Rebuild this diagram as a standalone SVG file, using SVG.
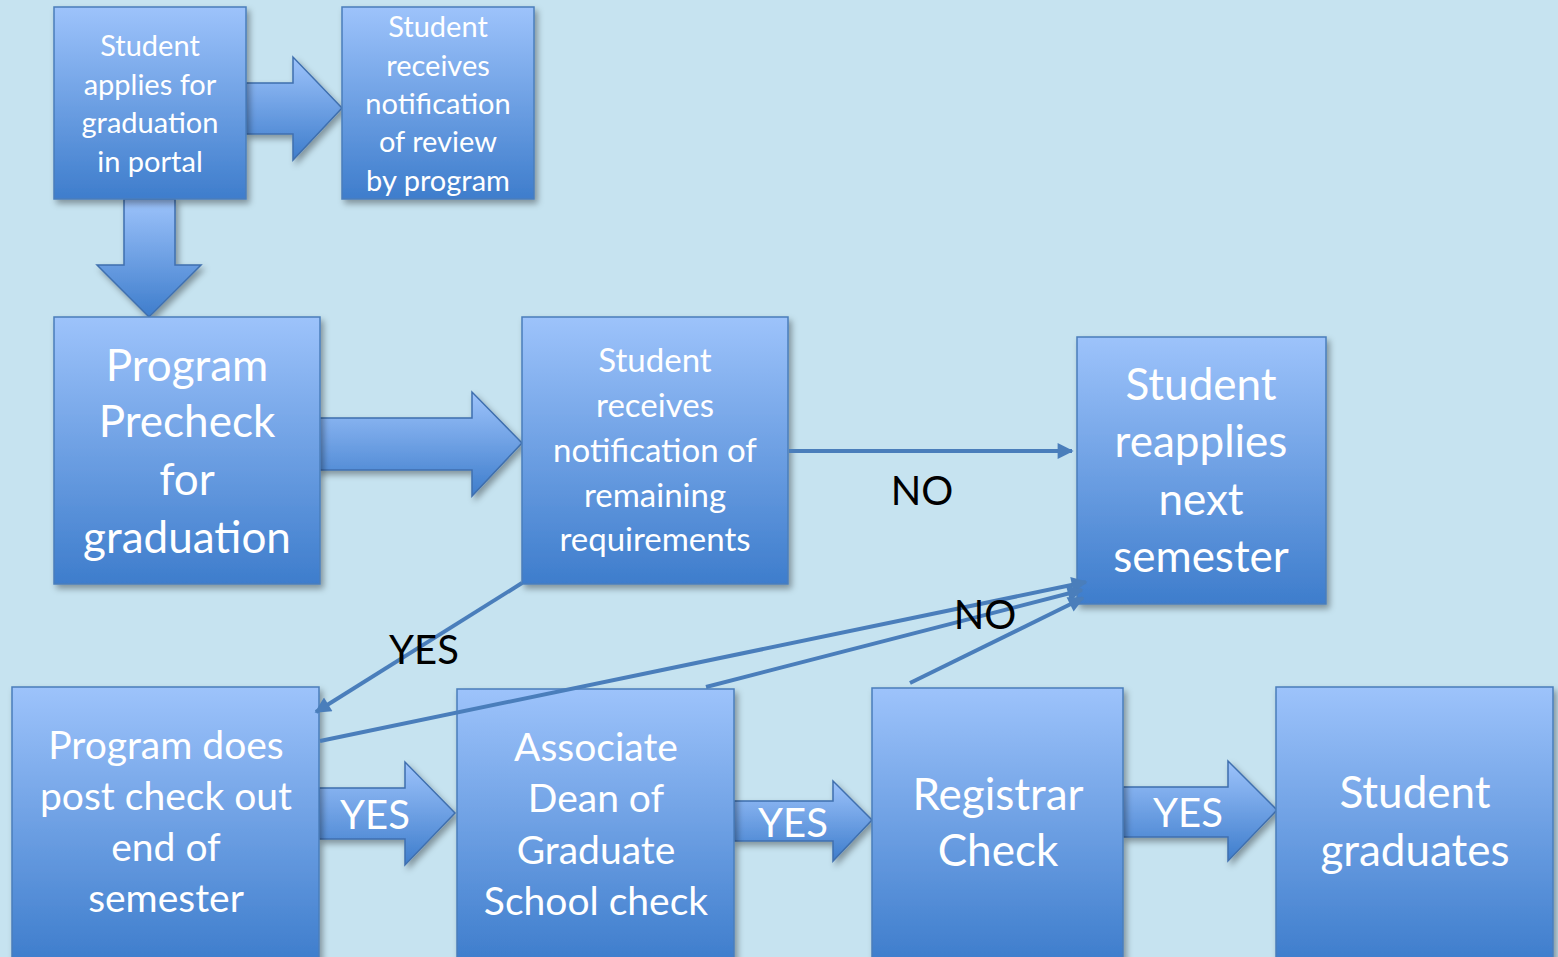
<svg xmlns="http://www.w3.org/2000/svg" width="1558" height="957" viewBox="0 0 1558 957">
<defs>
<linearGradient id="g" x1="0" y1="0" x2="0" y2="1">
<stop offset="0" stop-color="#9DC3FB"/>
<stop offset="1" stop-color="#3E7DCC"/>
</linearGradient>
<filter id="sh" x="-10%" y="-10%" width="130%" height="130%">
<feDropShadow dx="3" dy="4" stdDeviation="3" flood-color="#000" flood-opacity="0.35"/>
</filter>
<marker id="ah" viewBox="0 0 10 10" refX="9" refY="5" markerWidth="5" markerHeight="4" orient="auto" markerUnits="strokeWidth">
<path d="M0,0 L10,5 L0,10 z" fill="#4A7EBB"/>
</marker>
<style>
.box{fill:url(#g);stroke:#4A7EBB;stroke-width:1.5;filter:url(#sh)}
.ba{fill:url(#g);stroke:#3F6FAE;stroke-width:1.5;filter:url(#sh)}
.t{font-family:Lato,"Open Sans",sans-serif;fill:#fff;text-anchor:middle}
.lbl{font-family:Lato,"Open Sans",sans-serif;fill:#000;text-anchor:middle;font-size:40px}
.ln{stroke:#4A7EBB;stroke-width:4;fill:none;marker-end:url(#ah)}
</style>
</defs>
<rect width="1558" height="957" fill="#C6E3F0"/>

<g id="blockarrows">
<path class="ba" d="M246,83 H293 V57 L342,108 L293,160 V134 H246 z"/>
<path class="ba" d="M124,199 H175 V265 H201 L149,317 L97,265 H124 z"/>
<path class="ba" d="M318,418 H472 V392 L522,443 L472,496 V470 H318 z"/>
<path class="ba" d="M319,788 H405 V762 L455,813 L405,865 V839 H319 z"/>
<path class="ba" d="M734,801 H833 V781 L872,820 L833,861 V841 H734 z"/>
<path class="ba" d="M1123,787 H1228 V761 L1277,810 L1228,861 V837 H1123 z"/>
<text class="t" x="375" y="829" font-size="40">YES</text>
<text class="t" x="793" y="837" font-size="40">YES</text>
<text class="t" x="1188" y="827" font-size="40">YES</text>
</g>

<g id="n1"><rect class="box" x="54" y="7" width="192" height="192"/>
<text class="t" font-size="29"><tspan x="150" y="56">Student</tspan><tspan x="150" y="95">applies for</tspan><tspan x="150" y="133">graduation</tspan><tspan x="150" y="172">in portal</tspan></text></g>

<g id="n2"><rect class="box" x="342" y="7" width="192" height="192"/>
<text class="t" font-size="29"><tspan x="438" y="37">Student</tspan><tspan x="438" y="76">receives</tspan><tspan x="438" y="114">notification</tspan><tspan x="438" y="152">of review</tspan><tspan x="438" y="191">by program</tspan></text></g>

<g id="n3"><rect class="box" x="54" y="317" width="266" height="267"/>
<text class="t" font-size="44"><tspan x="187" y="381">Program</tspan><tspan x="187" y="437">Precheck</tspan><tspan x="187" y="495">for</tspan><tspan x="187" y="553">graduation</tspan></text></g>

<g id="n4"><rect class="box" x="522" y="317" width="266" height="267"/>
<text class="t" font-size="33"><tspan x="655" y="372">Student</tspan><tspan x="655" y="417">receives</tspan><tspan x="655" y="462">notification of</tspan><tspan x="655" y="507">remaining</tspan><tspan x="655" y="551">requirements</tspan></text></g>

<g id="n5"><rect class="box" x="1077" y="337" width="249" height="267"/>
<text class="t" font-size="44"><tspan x="1201" y="400">Student</tspan><tspan x="1201" y="457">reapplies</tspan><tspan x="1201" y="515">next</tspan><tspan x="1201" y="572">semester</tspan></text></g>

<g id="n6"><rect class="box" x="12" y="687" width="307" height="275"/>
<text class="t" font-size="39"><tspan x="166" y="759">Program does</tspan><tspan x="166" y="810">post check out</tspan><tspan x="166" y="861">end of</tspan><tspan x="166" y="912">semester</tspan></text></g>

<g id="n7"><rect class="box" x="457" y="689" width="277" height="273"/>
<text class="t" font-size="39"><tspan x="596" y="761">Associate</tspan><tspan x="596" y="812">Dean of</tspan><tspan x="596" y="864">Graduate</tspan><tspan x="596" y="915">School check</tspan></text></g>

<g id="n8"><rect class="box" x="872" y="688" width="251" height="274"/>
<text class="t" font-size="44"><tspan x="998" y="810">Registrar</tspan><tspan x="998" y="866">Check</tspan></text></g>

<g id="n9"><rect class="box" x="1276" y="687" width="277" height="275"/>
<text class="t" font-size="44"><tspan x="1415" y="808">Student</tspan><tspan x="1415" y="866">graduates</tspan></text></g>

<g id="connectors">
<line class="ln" x1="789" y1="451" x2="1072" y2="451"/>
<line class="ln" x1="522" y1="583" x2="316" y2="712"/>
<line class="ln" x1="320" y1="741" x2="1086" y2="582"/>
<line class="ln" x1="706" y1="687" x2="1082" y2="590"/>
<line class="ln" x1="910" y1="683" x2="1083" y2="598"/>
<text class="lbl" x="922" y="505">NO</text>
<text class="lbl" x="985" y="629">NO</text>
<text class="lbl" x="424" y="664">YES</text>
</g>
</svg>
